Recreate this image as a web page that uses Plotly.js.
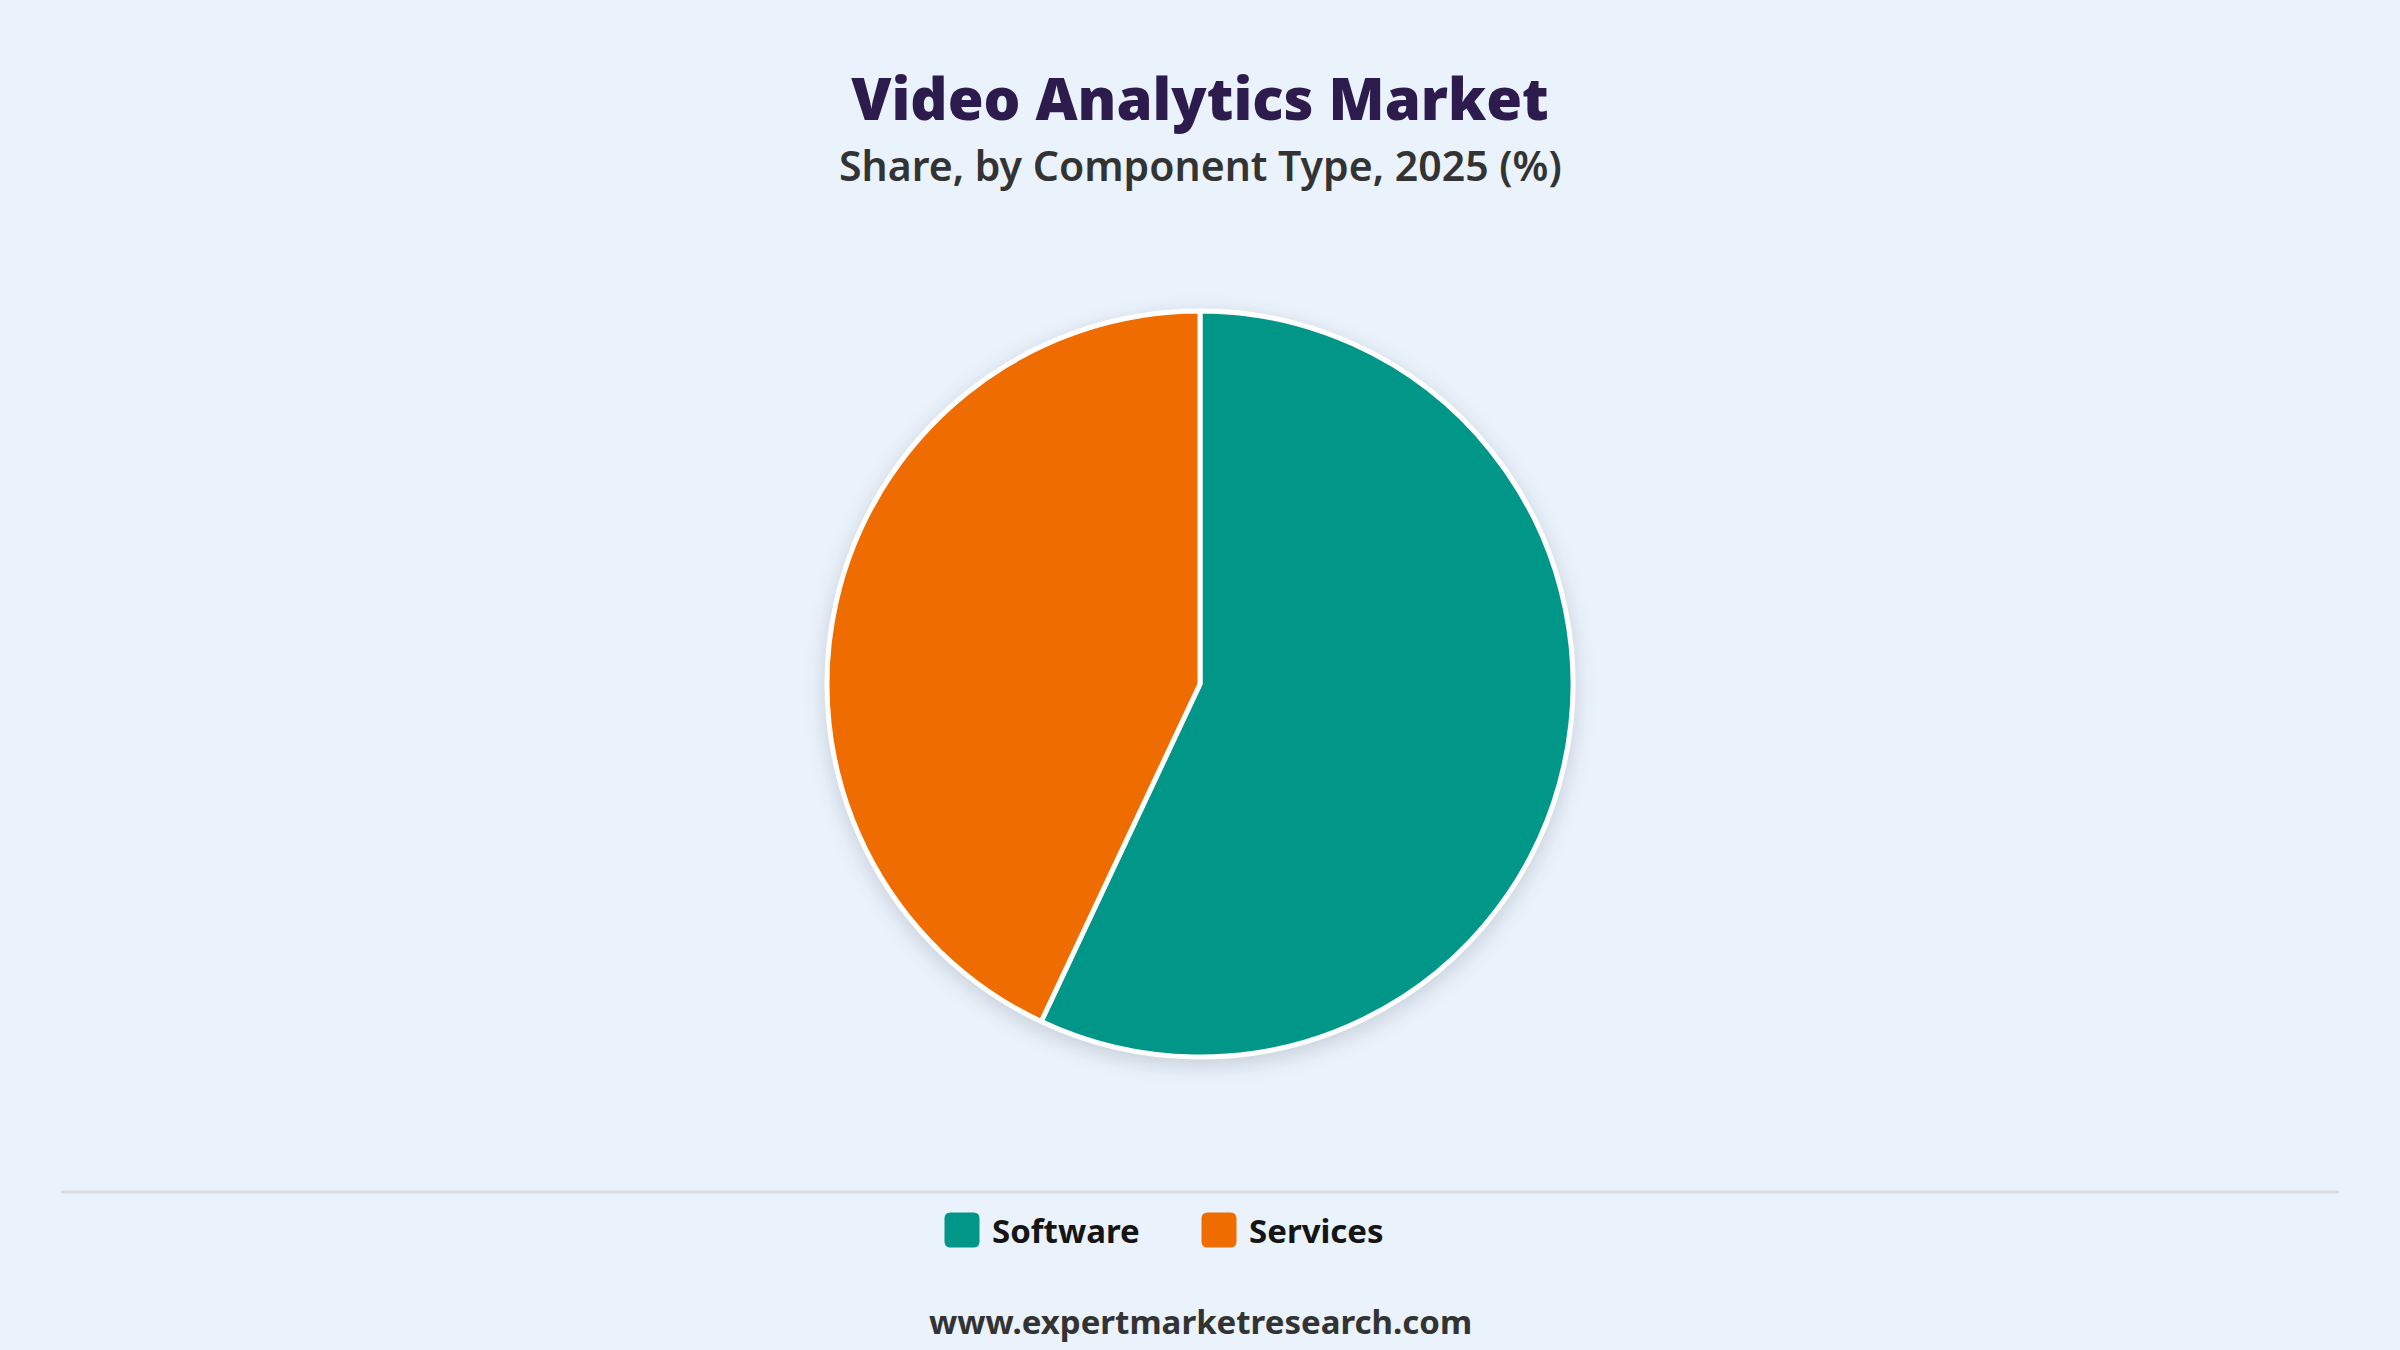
<!DOCTYPE html>
<html>
<head>
<meta charset="utf-8">
<script src="https://cdn.plot.ly/plotly-3.0.1.min.js"></script>
<style>
  html, body { margin: 0; padding: 0; background: #eaf2fb; }
  #chart { width: 2400px; height: 1350px; }
  .pielayer { filter: drop-shadow(0px 6px 10px rgba(40, 50, 70, 0.18)); }
</style>
</head>
<body>
<div id="chart"></div>
<script>
var labels = ["Software", "Services"];
var shares = [57, 43];
var colors = ["#009688", "#ef6c00"];

var chart = document.getElementById("chart");

var trace = {
    type: "pie",
    labels: labels,
    values: shares,
    sort: false,
    direction: "clockwise",
    rotation: 0,
    textinfo: "none",
    hoverinfo: "label+percent",
    marker: { colors: colors, line: { color: "#ffffff", width: 5 } },
    domain: { x: [0, 1], y: [0.217, 0.7696] }
};

var layout = {
    width: 2400,
    height: 1350,
    paper_bgcolor: "#eaf2fb",
    plot_bgcolor: "#eaf2fb",
    margin: { l: 0, r: 0, t: 0, b: 0 },
    font: { family: "Noto Sans, Open Sans, sans-serif", color: "#222" },
    title: {
        text: "Video Analytics Market",
        font: { size: 58, color: "#2d1b4e", family: "Noto Sans, sans-serif", weight: 900 },
        x: 0.5, xanchor: "center",
        y: 1 - 100 / 1350, yanchor: "middle"
    },
    showlegend: true,
    legend: {
        orientation: "h",
        x: 932 / 2400, xanchor: "left",
        y: (1350 - 1230) / 1350, yanchor: "middle",
        font: { size: 33, color: "#151515", weight: "bold" },
        itemclick: false,
        itemwidth: 50,
        entrywidth: 192,
        bgcolor: "rgba(0,0,0,0)"
    },
    shapes: [{
        type: "line", xref: "paper", yref: "paper",
        x0: 61 / 2400, x1: 2339 / 2400,
        y0: (1350 - 1192) / 1350, y1: (1350 - 1192) / 1350,
        line: { color: "#d9dde2", width: 3 }
    }],
    annotations: [
        {
            text: "Share, by Component Type, 2025 (%)",
            xref: "paper", yref: "paper", x: 0.5, y: 1 - 165 / 1350,
            xanchor: "center", yanchor: "middle", showarrow: false,
            font: { size: 41, color: "#333333", weight: 600 }
        },
        {
            text: "<b>www.expertmarketresearch.com</b>",
            xref: "paper", yref: "paper", x: 0.5, y: (1350 - 1321) / 1350,
            xanchor: "center", yanchor: "middle", showarrow: false,
            font: { size: 33, color: "#333333" }
        }
    ]
};

Plotly.newPlot(chart, [trace], layout, { displayModeBar: false, staticPlot: true }).then(function () {
    // bigger rounded legend swatches
    var pts = chart.querySelectorAll(".legendpoints path");
    pts.forEach(function (p) {
        p.setAttribute("d", "M-11.5,-17.5H11.5Q17.5,-17.5 17.5,-11.5V11.5Q17.5,17.5 11.5,17.5H-11.5Q-17.5,17.5 -17.5,11.5V-11.5Q-17.5,-17.5 -11.5,-17.5Z");
        p.style.strokeWidth = "0";
    });
});
</script>
</body>
</html>
